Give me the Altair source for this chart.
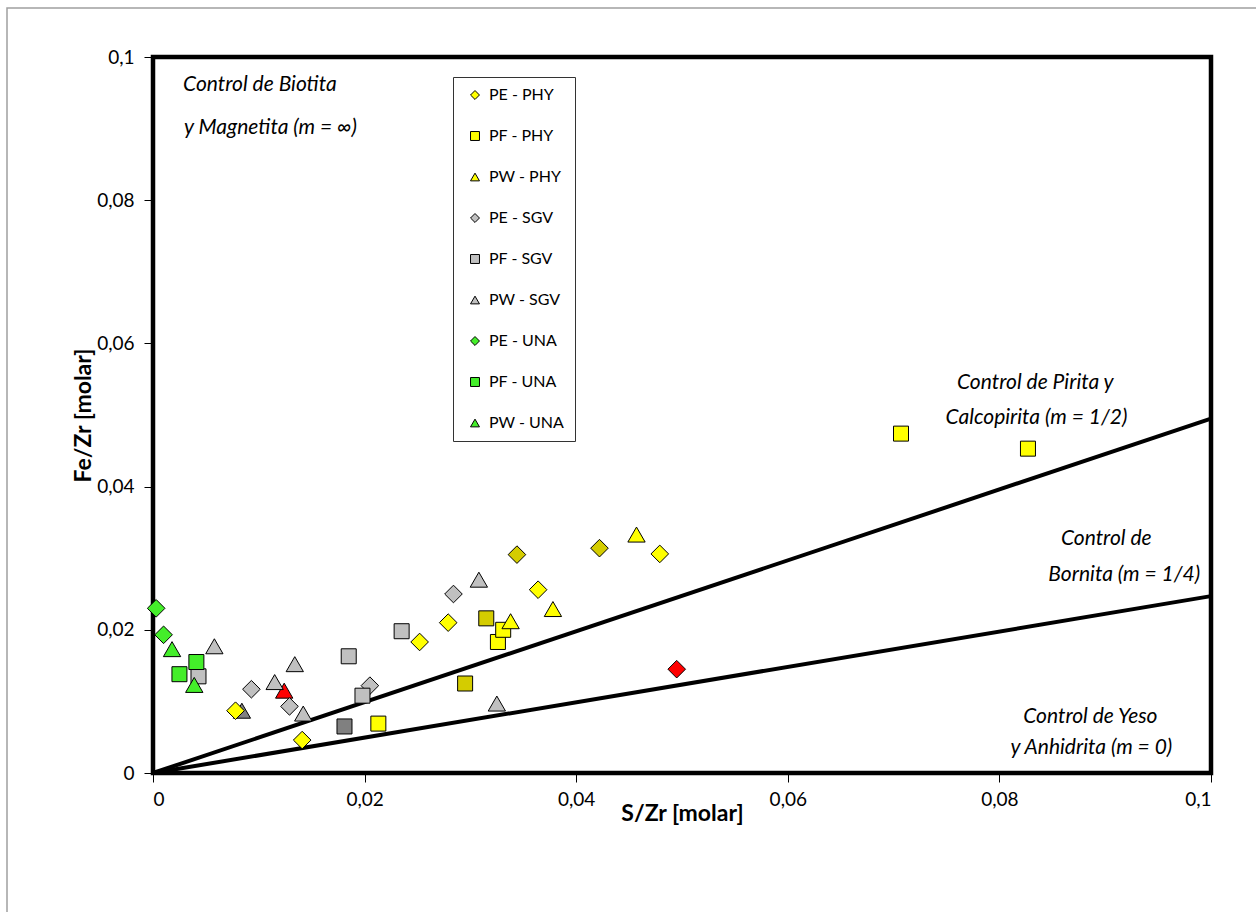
import altair as alt
import pandas as pd

# Fe/Zr vs S/Zr (molar) by sample type and alteration
SERIES = ["PE - PHY", "PF - PHY", "PW - PHY",
          "PE - SGV", "PF - SGV", "PW - SGV",
          "PE - UNA", "PF - UNA", "PW - UNA"]

pe_phy_s = [0.0078, 0.0141, 0.0252, 0.0279, 0.0364, 0.0479]
pe_phy_fe = [0.0087, 0.0046, 0.0183, 0.0210, 0.0256, 0.0306]
pf_phy_s = [0.0213, 0.0326, 0.0331, 0.0707, 0.0827]
pf_phy_fe = [0.0069, 0.0183, 0.0200, 0.0474, 0.0453]
pw_phy_s = [0.0338, 0.0378, 0.0457]
pw_phy_fe = [0.0212, 0.0229, 0.0333]

pe_sgv_s = [0.0093, 0.0129, 0.0205, 0.0284]
pe_sgv_fe = [0.0117, 0.0093, 0.0122, 0.0250]
pf_sgv_s = [0.0043, 0.0185, 0.0198, 0.0235]
pf_sgv_fe = [0.0135, 0.0163, 0.0108, 0.0198]
pw_sgv_s = [0.0058, 0.0115, 0.0134, 0.0142, 0.0308, 0.0325]
pw_sgv_fe = [0.0177, 0.0127, 0.0152, 0.0083, 0.0270, 0.0097]

pe_una_s = [0.0003, 0.0010]
pe_una_fe = [0.0230, 0.0193]
pf_una_s = [0.0025, 0.0041]
pf_una_fe = [0.0138, 0.0155]
pw_una_s = [0.0018, 0.0039]
pw_una_fe = [0.0173, 0.0123]

# highlighted samples (no legend entry)
dk_yellow_diamond_s = [0.0344, 0.0422]
dk_yellow_diamond_fe = [0.0305, 0.0314]
dk_yellow_square_s = [0.0315, 0.0295]
dk_yellow_square_fe = [0.0216, 0.0125]
dk_gray_square_s = [0.0181]
dk_gray_square_fe = [0.0065]
dk_gray_triangle_s = [0.0084]
dk_gray_triangle_fe = [0.0087]
red_triangle_s = [0.0124]
red_triangle_fe = [0.0115]
red_diamond_s = [0.0495]
red_diamond_fe = [0.0145]

# control lines: Fe/Zr reached at S/Zr = 0.1
line_s = [0.0, 0.1]
line_half_fe = [0.0, 0.0495]
line_quarter_fe = [0.0, 0.0247]

FONT = "Lato"
YELLOW = "#FFFF00"
GRAY = "#C0C0C0"
GREEN = "#44EE2A"
DK_YELLOW = "#D4CC00"
DK_GRAY = "#808080"
RED = "#FF0000"

SHAPE_OF = {"PE": "diamond", "PF": "square", "PW": "triangle-up"}
SIZE_OF = {"diamond": 310, "square": 225, "triangle-up": 300}
COLOR_OF = {"PHY": YELLOW, "SGV": GRAY, "UNA": GREEN}

series_data = {
    "PE - PHY": (pe_phy_s, pe_phy_fe), "PF - PHY": (pf_phy_s, pf_phy_fe),
    "PW - PHY": (pw_phy_s, pw_phy_fe), "PE - SGV": (pe_sgv_s, pe_sgv_fe),
    "PF - SGV": (pf_sgv_s, pf_sgv_fe), "PW - SGV": (pw_sgv_s, pw_sgv_fe),
    "PE - UNA": (pe_una_s, pe_una_fe), "PF - UNA": (pf_una_s, pf_una_fe),
    "PW - UNA": (pw_una_s, pw_una_fe),
}

rows = []
for name in SERIES:
    xs, ys = series_data[name]
    shape = SHAPE_OF[name.split(" - ")[0]]
    for xv, yv in zip(xs, ys):
        rows.append({"serie": name, "s": xv, "fe": yv, "sz": SIZE_OF[shape]})
pts = pd.DataFrame(rows)

shape_range = [SHAPE_OF[n.split(" - ")[0]] for n in SERIES]
color_range = [COLOR_OF[n.split(" - ")[1]] for n in SERIES]

xscale = alt.Scale(domain=[0, 0.1], nice=False, zero=False)
yscale = alt.Scale(domain=[0, 0.1], nice=False, zero=False)
tick_vals = [0, 0.02, 0.04, 0.06, 0.08, 0.1]
lbl = "replace(format(datum.value, '.2~f'), '.', ',')"

x_axis = alt.Axis(values=tick_vals, labelExpr=lbl, title="S/Zr [molar]",
                  grid=False, domain=False, ticks=True, tickSize=9, tickWidth=1,
                  tickColor="black", labelFont=FONT, labelFontSize=19,
                  labelColor="black", labelPadding=8, titleFont=FONT,
                  titleFontSize=23, titleFontWeight="bold", titleColor="black",
                  titleX=529, titleY=40, titleAlign="center",
                  titleBaseline="middle")
y_axis = alt.Axis(values=tick_vals, labelExpr=lbl, title="Fe/Zr [molar]",
                  grid=False, domain=False, ticks=True, tickSize=9, tickWidth=1,
                  tickColor="black", labelFont=FONT, labelFontSize=19,
                  labelColor="black", labelPadding=10, titleFont=FONT,
                  titleFontSize=23, titleFontWeight="bold", titleColor="black",
                  titleX=-70, titleY=358, titleAlign="center",
                  titleBaseline="middle")

# outer chart-area border
frame = alt.Chart(pd.DataFrame({"k": [0]})).mark_rect(
    fillOpacity=0, stroke="#A0A0A0", strokeWidth=1.5
).encode(x=alt.value(-146), x2=alt.value(1250), y=alt.value(-49), y2=alt.value(950))

lines_df = pd.DataFrame({
    "s": line_s + line_s,
    "fe": line_half_fe + line_quarter_fe,
    "m": ["1/2"] * 2 + ["1/4"] * 2,
})
lines = alt.Chart(lines_df).mark_line(color="black", strokeWidth=4).encode(
    x=alt.X("s:Q", scale=xscale, axis=x_axis),
    y=alt.Y("fe:Q", scale=yscale, axis=y_axis),
    detail="m:N",
)

points = alt.Chart(pts).mark_point(
    filled=True, opacity=1, stroke="black", strokeWidth=1
).encode(
    x=alt.X("s:Q", scale=xscale),
    y=alt.Y("fe:Q", scale=yscale),
    fill=alt.Fill("serie:N", scale=alt.Scale(domain=SERIES, range=color_range),
                  legend=alt.Legend(title=None, orient="none", legendX=300, legendY=20,
                                    padding=10, symbolSize=80, symbolStrokeColor="black",
                                    symbolStrokeWidth=1, labelFont=FONT, labelFontSize=16,
                                    labelColor="black", rowPadding=25, symbolOffset=4,
                                    labelOffset=6, strokeColor="#333333",
                                    fillColor="white")),
    shape=alt.Shape("serie:N", scale=alt.Scale(domain=SERIES, range=shape_range)),
    size=alt.Size("sz:Q", scale=None, legend=None),
)

extra_groups = [
    ("diamond", DK_YELLOW, dk_yellow_diamond_s, dk_yellow_diamond_fe),
    ("square", DK_YELLOW, dk_yellow_square_s, dk_yellow_square_fe),
    ("square", DK_GRAY, dk_gray_square_s, dk_gray_square_fe),
    ("triangle-up", DK_GRAY, dk_gray_triangle_s, dk_gray_triangle_fe),
    ("triangle-up", RED, red_triangle_s, red_triangle_fe),
    ("diamond", RED, red_diamond_s, red_diamond_fe),
]
extra_layers = []
for shape, color, xs, ys in extra_groups:
    extra_layers.append(
        alt.Chart(pd.DataFrame({"s": xs, "fe": ys})).mark_point(
            filled=True, opacity=1, shape=shape, fill=color, stroke="black",
            strokeWidth=1, size=SIZE_OF[shape]
        ).encode(x=alt.X("s:Q", scale=xscale), y=alt.Y("fe:Q", scale=yscale))
    )

notes_df = pd.DataFrame({
    "txt": ["Control de Biotita", "y Magnetita (m = \u221e)",
            "Control de Pirita y", "Calcopirita (m = 1/2)",
            "Control de", "Bornita (m = 1/4)",
            "Control de Yeso", "y Anhidrita (m = 0)"],
    "s": [0.0101, 0.0111, 0.0834, 0.0835, 0.0901, 0.0918, 0.0886, 0.0887],
    "fe": [0.0961, 0.0901, 0.0545, 0.0496, 0.0327, 0.0277, 0.0078, 0.0035],
})
notes = alt.Chart(notes_df).mark_text(
    font=FONT, fontSize=21, fontStyle="italic", color="black",
    align="center", baseline="middle"
).encode(
    x=alt.X("s:Q", scale=xscale), y=alt.Y("fe:Q", scale=yscale), text="txt:N"
)

chart = alt.layer(frame, lines, notes, *extra_layers, points).properties(
    width=1058, height=716,
    padding={"left": 153, "top": 57, "right": 45, "bottom": 139},
    autosize="none", background="white",
).configure_view(stroke="black", strokeWidth=4.5)

chart.save("out.html", embed_options={"renderer": "svg", "actions": False})
